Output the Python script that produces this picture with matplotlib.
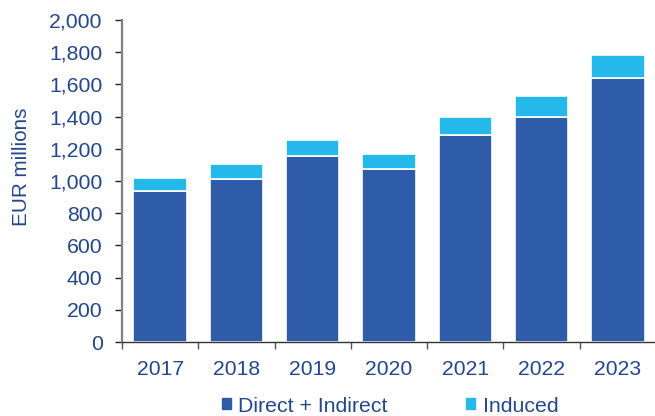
import numpy as np
import matplotlib.pyplot as plt
from matplotlib.patches import Patch

plt.rcParams['font.family'] = ['Liberation Sans', 'DejaVu Sans']

# Economic impact by year, EUR millions
years = ["2017", "2018", "2019", "2020", "2021", "2022", "2023"]
direct_indirect = [940, 1015, 1155, 1075, 1285, 1400, 1640]
induced = [80, 90, 100, 95, 110, 125, 145]

dark_blue = "#2E5CA8"
light_blue = "#25B8EA"
text_blue = "#23478C"

fig = plt.figure(figsize=(6.55, 4.16), dpi=100)
ax = fig.add_axes([122 / 655, 1 - 342 / 416, 534 / 655, 322 / 416])

x = np.arange(len(years))
ax.bar(x, direct_indirect, width=0.7, color=dark_blue,
       edgecolor="white", linewidth=1.2, label="Direct + Indirect")
ax.bar(x, induced, width=0.7, bottom=direct_indirect, color=light_blue,
       edgecolor="white", linewidth=1.2, label="Induced")

ax.set_xlim(-0.5, len(years) - 0.5)
ax.set_ylim(0, 2000)
ax.set_yticks(range(0, 2001, 200))
ax.set_yticklabels([f"{v:,}" for v in range(0, 2001, 200)])

# year labels at bar centres, tick marks between categories
ax.set_xticks(np.arange(-0.5, len(years), 1.0))
ax.set_xticklabels([])
ax.set_xticks(x, minor=True)
ax.set_xticklabels(years, minor=True)
ax.tick_params(axis="x", which="major", length=5, width=1, color="#555555", direction="out")
ax.tick_params(axis="x", which="minor", length=0, pad=13, labelsize=15.2, labelcolor=text_blue)
ax.tick_params(axis="y", length=5, width=1, color="#222222", pad=9,
               labelsize=15.3, labelcolor=text_blue)

for side in ["top", "right"]:
    ax.spines[side].set_visible(False)
ax.spines["left"].set_color("#808080")
ax.spines["left"].set_linewidth(1.6)
ax.spines["bottom"].set_color("#333333")
ax.spines["bottom"].set_linewidth(1.0)

fig.text(22 / 655, 1 - 167 / 416, "EUR millions", rotation=90, ha="center", va="center",
         fontsize=14.9, color=text_blue)

handles = [Patch(color=dark_blue), Patch(color=light_blue)]
fig.legend(handles, ["Direct + Indirect", "Induced"], loc="center",
           bbox_to_anchor=(390 / 655, 1 - 406 / 416), ncol=2, frameon=False,
           fontsize=15.3, labelcolor=text_blue, handlelength=0.42, handleheight=0.42,
           handletextpad=0.35, columnspacing=3.7)

fig.savefig("out.png", dpi=100)
